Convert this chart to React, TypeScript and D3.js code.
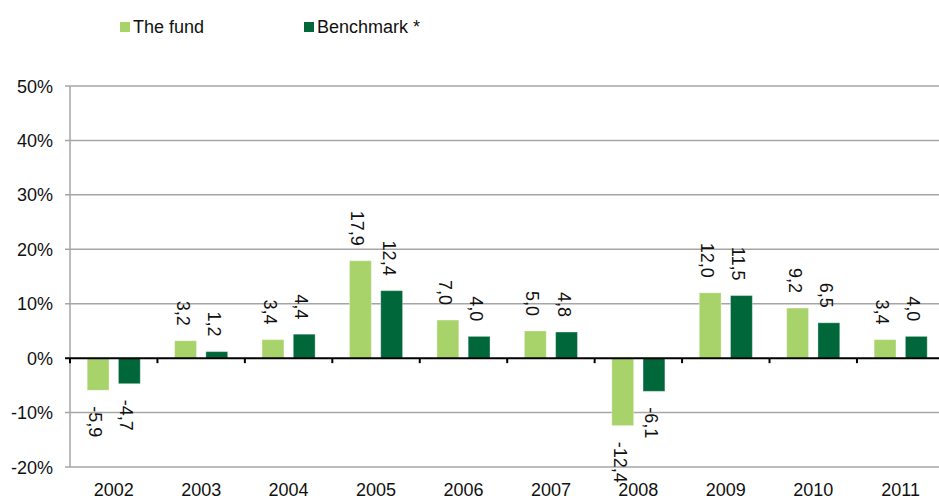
import React from 'react';
import * as d3 from 'd3';

const years = ['2002', '2003', '2004', '2005', '2006', '2007', '2008', '2009', '2010', '2011'];
const fundValues = [-5.9, 3.2, 3.4, 17.9, 7.0, 5.0, -12.4, 12.0, 9.2, 3.4];
const benchValues = [-4.7, 1.2, 4.4, 12.4, 4.0, 4.8, -6.1, 11.5, 6.5, 4.0];
const yTicks = [-20, -10, 0, 10, 20, 30, 40, 50];
const seriesNames = ['The fund', 'Benchmark *'];
const seriesColors = ['#a8d26a', '#00673a'];

const W = 939, H = 496;
const font = '"Liberation Sans", Arial, sans-serif';

const App = () => {
    const left = 70, right = 944.4;
    const x = d3.scaleBand().domain(years).range([left, right]);
    const inner = d3.scaleBand().domain(['fund', 'bench'])
        .range([0, x.bandwidth()]).paddingInner(0.3).paddingOuter(0.55);
    const y = d3.scaleLinear().domain([-20, 50]).range([467, 86]);

    const series = [
        { key: 'fund', values: fundValues, color: seriesColors[0] },
        { key: 'bench', values: benchValues, color: seriesColors[1] },
    ];
    const fmt = (v: number) => v.toFixed(1).replace('.', ',');

    return (
        <svg width={W} height={H} style={{ position: 'absolute', left: 0, top: 0 }} fontFamily={font}>
            {/* legend */}
            {seriesNames.map((name, i) => {
                const lx = i === 0 ? 120 : 304;
                return (
                    <g key={name}>
                        <rect x={lx} y={22} width={10} height={10} fill={seriesColors[i]} />
                        <text x={lx + 13} y={33} fontSize={18} fill="#111">{name}</text>
                    </g>
                );
            })}

            {/* grid */}
            {yTicks.map(t => (
                <g key={t}>
                    {t !== 0 && <line x1={65} x2={W} y1={y(t)} y2={y(t)} stroke="#a6a6a6" strokeWidth={1.5} />}
                    <text x={53} y={y(t) + 6.5} textAnchor="end" fontSize={18} fill="#111">{t}%</text>
                </g>
            ))}
            <line x1={left} x2={left} y1={y(50)} y2={y(-20)} stroke="#a6a6a6" strokeWidth={1.5} />

            {/* bars */}
            {series.map(s => s.values.map((v, i) => {
                const bx = (x(years[i]) as number) + (inner(s.key) as number);
                const bw = inner.bandwidth();
                const top = y(Math.max(0, v)), bottom = y(Math.min(0, v));
                const cx = bx + bw / 2;
                const ly = v >= 0 ? top - 15 : bottom + 16;
                return (
                    <g key={s.key + i}>
                        <rect x={bx} y={top} width={bw} height={bottom - top} fill={s.color} stroke="#ffffff" strokeOpacity={0.35} strokeWidth={1} />
                        <text transform={`translate(${cx},${ly}) rotate(90)`} y={9}
                            textAnchor={v >= 0 ? 'end' : 'start'} fontSize={18} fill="#111">{fmt(v)}</text>
                    </g>
                );
            }))}

            {/* zero axis */}
            <line x1={left - 5} x2={W} y1={y(0)} y2={y(0)} stroke="#000" strokeWidth={2} />
            {years.map((yr, i) => (
                <line key={'t' + yr} x1={x(yr) as number} x2={x(yr) as number} y1={y(0)} y2={y(0) + 5} stroke="#000" strokeWidth={2} />
            ))}

            {/* year labels */}
            {years.map(yr => (
                <text key={'l' + yr} x={(x(yr) as number) + x.bandwidth() / 2} y={496} textAnchor="middle" fontSize={18} fill="#111">{yr}</text>
            ))}
        </svg>
    );
};

export default App;
